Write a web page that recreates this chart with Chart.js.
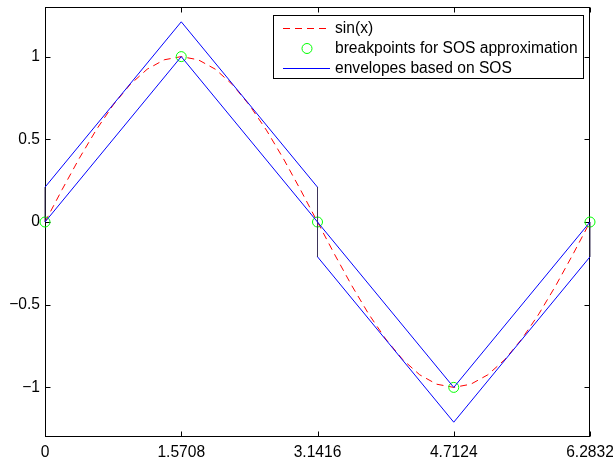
<!DOCTYPE html>
<html>
<head>
<meta charset="utf-8">
<script src="https://cdn.jsdelivr.net/npm/chart.js@4/dist/chart.umd.min.js"></script>
<style>
    body { margin: 0; background: #fff; }
    canvas { display: block; }
</style>
</head>
<body>
<canvas id="sosChart" width="613" height="461"></canvas>
<script>
// sin(x) sampled over one period
const sinX = [0, 0.1963, 0.3927, 0.5890, 0.7854, 0.9817, 1.1781, 1.3744, 1.5708,
    1.7671, 1.9635, 2.1598, 2.3562, 2.5525, 2.7489, 2.9452, 3.1416,
    3.3379, 3.5343, 3.7306, 3.9270, 4.1233, 4.3197, 4.5160, 4.7124,
    4.9087, 5.1051, 5.3014, 5.4978, 5.6941, 5.8905, 6.0868, 6.2832];
const sinY = [0, 0.1951, 0.3827, 0.5556, 0.7071, 0.8315, 0.9239, 0.9808, 1,
    0.9808, 0.9239, 0.8315, 0.7071, 0.5556, 0.3827, 0.1951, 0,
    -0.1951, -0.3827, -0.5556, -0.7071, -0.8315, -0.9239, -0.9808, -1,
    -0.9808, -0.9239, -0.8315, -0.7071, -0.5556, -0.3827, -0.1951, 0];

// SOS breakpoints
const breakX = [0, 1.5708, 3.1416, 4.7124, 6.2832];
const breakY = [0, 1, 0, -1, 0];

// outer envelope: piecewise-linear SOS shifted by its max error (0.2105)
const outerX = [0, 0, 1.5708, 3.1416, 3.1416, 4.7124, 6.2832, 6.2832];
const outerY = [0, 0.2105, 1.2105, 0.2105, -0.2105, -1.2105, -0.2105, 0];

const xTicks = [0, 1.5708, 3.1416, 4.7124, 6.2832];
const yTicks = [-1, -0.5, 0, 0.5, 1];

const FONT = '"Liberation Sans", Arial, sans-serif';
const FONT_SIZE = 15.6;

function pts(xs, ys) {
    return xs.map((x, i) => ({ x: x, y: ys[i] }));
}

function fmt(v) {
    return v < 0 ? '\u2212' + Math.abs(v) : String(v);
}

Chart.defaults.font.family = FONT;
Chart.defaults.font.size = FONT_SIZE;
Chart.defaults.color = '#000';

// axes box with inward ticks on all four sides
const frame = {
    id: 'frame',
    beforeDatasetsDraw(chart) {
        const { ctx, chartArea: a, scales } = chart;
        const L = Math.round(a.left) + 0.5, R = Math.round(a.right) - 0.5;
        const T = Math.round(a.top) + 0.5, B = Math.round(a.bottom) - 0.5;
        ctx.save();
        ctx.strokeStyle = '#000';
        ctx.lineWidth = 1;
        ctx.strokeRect(L, T, R - L, B - T);
        ctx.beginPath();
        xTicks.forEach(v => {
            const px = Math.round(scales.x.getPixelForValue(v)) + 0.5;
            ctx.moveTo(px, B); ctx.lineTo(px, B - 5);
            ctx.moveTo(px, T); ctx.lineTo(px, T + 5);
        });
        yTicks.forEach(v => {
            const py = Math.round(scales.y.getPixelForValue(v)) + 0.5;
            ctx.moveTo(L, py); ctx.lineTo(L + 5, py);
            ctx.moveTo(R, py); ctx.lineTo(R - 5, py);
        });
        ctx.stroke();
        ctx.restore();
    }
};

// boxed legend in the upper right corner
const boxLegend = {
    id: 'boxLegend',
    afterDraw(chart) {
        const ctx = chart.ctx;
        const x0 = 273, y0 = 15, w = 310, h = 63;
        ctx.save();
        ctx.fillStyle = '#fff';
        ctx.fillRect(x0, y0, w, h);
        ctx.strokeStyle = '#000';
        ctx.lineWidth = 1;
        ctx.strokeRect(x0 + 0.5, y0 + 0.5, w, h);
        const entries = chart.data.datasets.filter(ds => !ds.noLegend);
        entries.forEach((ds, i) => {
            const y = 28.5 + i * 20;
            ctx.strokeStyle = ds.borderColor;
            if (ds.showLine === false) {
                ctx.beginPath();
                ctx.arc(307, y, ds.pointRadius, 0, Math.PI * 2);
                ctx.stroke();
            } else {
                ctx.setLineDash(ds.borderDash || []);
                ctx.beginPath();
                ctx.moveTo(283, y);
                ctx.lineTo(330, y);
                ctx.stroke();
                ctx.setLineDash([]);
            }
            ctx.fillStyle = '#000';
            ctx.font = FONT_SIZE + 'px ' + FONT;
            ctx.textBaseline = 'middle';
            ctx.fillText(ds.label, 335, y);
        });
        ctx.restore();
    }
};

const vertical = ctx => ctx.p0.parsed.x === ctx.p1.parsed.x ? '#3d3459' : '#0000ff';

new Chart(document.getElementById('sosChart'), {
    type: 'scatter',
    data: {
        datasets: [{
            label: 'sin(x)',
            data: pts(sinX, sinY),
            showLine: true,
            borderColor: '#ff0000',
            borderWidth: 1,
            borderDash: [7, 5],
            pointRadius: 0,
            order: 3
        }, {
            label: 'breakpoints for SOS approximation',
            data: pts(breakX, breakY),
            showLine: false,
            borderColor: '#00ff00',
            backgroundColor: 'transparent',
            borderWidth: 1,
            pointRadius: 5,
            clip: false,
            order: 2
        }, {
            label: 'envelopes based on SOS',
            data: pts(outerX, outerY),
            showLine: true,
            borderColor: '#0000ff',
            borderWidth: 1,
            pointRadius: 0,
            segment: { borderColor: vertical },
            clip: false,
            order: 1
        }, {
            label: 'inner envelope',
            noLegend: true,
            data: pts(breakX, breakY),
            showLine: true,
            borderColor: '#0000ff',
            borderWidth: 1,
            pointRadius: 0,
            clip: false,
            order: 0
        }]
    },
    options: {
        responsive: false,
        animation: false,
        events: [],
        layout: { padding: { top: 7, right: 23, left: 0, bottom: 0 } },
        plugins: { legend: { display: false }, tooltip: { enabled: false } },
        scales: {
            x: {
                type: 'linear',
                min: 0,
                max: 6.2832,
                grid: { display: false, drawTicks: false },
                border: { display: false },
                afterBuildTicks: s => { s.ticks = xTicks.map(v => ({ value: v })); },
                afterFit: s => { s.height = 24; s.paddingLeft = 0; s.paddingRight = 0; },
                ticks: { padding: 6, maxRotation: 0, autoSkip: false, callback: v => fmt(v) }
            },
            y: {
                min: -1.3,
                max: 1.3,
                grid: { display: false, drawTicks: false },
                border: { display: false },
                afterBuildTicks: s => { s.ticks = yTicks.map(v => ({ value: v })); },
                afterFit: s => { s.width = 45; s.paddingTop = 0; s.paddingBottom = 0; },
                ticks: { padding: 5, autoSkip: false, callback: v => fmt(v) }
            }
        }
    },
    plugins: [frame, boxLegend]
});
</script>
</body>
</html>
